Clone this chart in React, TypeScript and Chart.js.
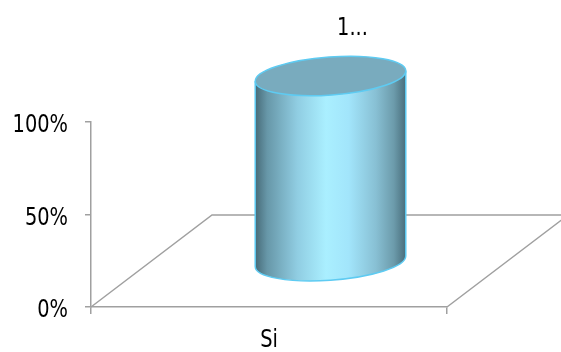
import React, { useEffect, useRef } from "react";
import { Chart, registerables } from "chart.js";

Chart.register(...registerables);

const categories = ["Si"];
const values = [1];
const dataLabels = ["1..."];
const yTickValues = [0, 0.5, 1];

const GRAY = "#a0a0a0";
const DEPTH_X = 121;
const DEPTH_Y = -92;
const FONT = "25px 'DejaVu Sans', sans-serif";
const SX = 0.775;

const fmtPct = (v: number) => `${Math.round(v * 100)}%`;

function drawNarrowText(ctx: any, text: string, x: number, y: number, align: "left" | "center" | "right") {
  ctx.save();
  ctx.font = FONT;
  ctx.fillStyle = "#000";
  ctx.textBaseline = "alphabetic";
  ctx.textAlign = align;
  ctx.translate(x, y);
  ctx.scale(SX, 1);
  ctx.fillText(text, 0, 0);
  ctx.restore();
}

const floorPlugin = {
  id: "floor3d",
  beforeDatasetsDraw(chart: any) {
    const { ctx, chartArea } = chart;
    const { left, right, bottom } = chartArea;
    ctx.save();
    ctx.strokeStyle = GRAY;
    ctx.lineWidth = 1.5;
    ctx.beginPath();
    ctx.moveTo(left, bottom);
    ctx.lineTo(left + DEPTH_X, bottom + DEPTH_Y);
    ctx.lineTo(right + DEPTH_X, bottom + DEPTH_Y);
    ctx.lineTo(right, bottom);
    ctx.stroke();
    ctx.restore();
  },
};

const axisLabelPlugin = {
  id: "axisLabels",
  afterDraw(chart: any) {
    const { ctx } = chart;
    const ys = chart.scales.y;
    const xs = chart.scales.x;
    yTickValues.forEach((v) => {
      const py = ys.getPixelForValue(v);
      drawNarrowText(ctx, fmtPct(v), ys.right - 23, py + 10, "right");
    });
    categories.forEach((c, i) => {
      const px = xs.getPixelForValue(i);
      drawNarrowText(ctx, c, px, xs.top + 40, "center");
    });
  },
};

const cylinderPlugin = {
  id: "cylinder3d",
  afterDatasetsDraw(chart: any) {
    const { ctx } = chart;
    const meta = chart.getDatasetMeta(0);
    meta.data.forEach((bar: any, i: number) => {
      const props = bar.getProps(["x", "y", "base", "width"], true);
      const cx = props.x + DEPTH_X / 2 + 1;
      const topY = props.y + DEPTH_Y / 2;
      const botY = props.base + DEPTH_Y / 2 + 1;
      const rx = props.width / 2;
      const ry = 19;
      const rot = -0.073;
      const t0 = Math.atan2(-ry * Math.sin(rot), rx * Math.cos(rot));
      const ptAt = (cy: number, t: number) => {
        const ex = rx * Math.cos(t);
        const ey = ry * Math.sin(t);
        return {
          x: cx + ex * Math.cos(rot) - ey * Math.sin(rot),
          y: cy + ex * Math.sin(rot) + ey * Math.cos(rot),
        };
      };
      const tR = t0;
      const tL = t0 + Math.PI;
      const topL = ptAt(topY, tL);
      const topR = ptAt(topY, tR);
      const botL = ptAt(botY, tL);

      ctx.save();
      const grad = ctx.createLinearGradient(cx - rx, 0, cx + rx, 0);
      grad.addColorStop(0, "#466a77");
      grad.addColorStop(0.08, "#6797a8");
      grad.addColorStop(0.28, "#90cde2");
      grad.addColorStop(0.47, "#aaefff");
      grad.addColorStop(0.62, "#a2e5fb");
      grad.addColorStop(0.8, "#88c0d4");
      grad.addColorStop(0.92, "#6c9bab");
      grad.addColorStop(1, "#486d7b");
      const sidePath = () => {
        ctx.beginPath();
        ctx.moveTo(topL.x, topL.y);
        ctx.lineTo(botL.x, botL.y);
        ctx.ellipse(cx, botY, rx, ry, rot, tL, tR, true);
        ctx.lineTo(topR.x, topR.y);
      };
      sidePath();
      ctx.closePath();
      ctx.fillStyle = grad;
      ctx.fill();
      ctx.strokeStyle = "#5ecbf2";
      ctx.lineWidth = 1.5;
      sidePath();
      ctx.stroke();
      ctx.beginPath();
      ctx.ellipse(cx, topY, rx, ry, rot, 0, Math.PI * 2);
      ctx.fillStyle = "#79abbe";
      ctx.fill();
      ctx.stroke();
      ctx.restore();
      drawNarrowText(ctx, dataLabels[i], cx + 22, topY - 41, "center");
    });
  },
};

export default function App() {
  const canvasRef = useRef<HTMLCanvasElement | null>(null);

  useEffect(() => {
    document.body.style.margin = "0";
    const canvas = canvasRef.current;
    if (!canvas) return;
    const chart = new Chart(canvas, {
      type: "bar",
      data: {
        labels: categories,
        datasets: [
          {
            data: values,
            backgroundColor: "rgba(0,0,0,0)",
            borderWidth: 0,
            barPercentage: 0.424,
            categoryPercentage: 1,
          },
        ],
      },
      options: {
        responsive: false,
        animation: false,
        layout: { padding: { top: 122, right: 114, left: 0, bottom: 0 } },
        plugins: {
          legend: { display: false },
          tooltip: { enabled: false },
        },
        scales: {
          x: {
            type: "category",
            offset: true,
            grid: {
              display: true,
              offset: true,
              drawOnChartArea: false,
              drawTicks: true,
              tickLength: 7,
              color: GRAY,
              lineWidth: 1.5,
            },
            border: { display: true, color: GRAY, width: 1.5 },
            ticks: { display: false },
            afterFit: (scale: any) => {
              scale.height = 45;
            },
          },
          y: {
            type: "linear",
            min: 0,
            max: 1,
            afterBuildTicks: (scale: any) => {
              scale.ticks = yTickValues.map((v) => ({ value: v }));
            },
            grid: {
              display: true,
              drawOnChartArea: false,
              drawTicks: true,
              tickLength: 6,
              color: GRAY,
              lineWidth: 1.5,
            },
            border: { display: true, color: GRAY, width: 1.5 },
            ticks: { display: false },
            afterFit: (scale: any) => {
              scale.width = 91;
            },
          },
        },
      },
      plugins: [floorPlugin, cylinderPlugin, axisLabelPlugin],
    });
    return () => chart.destroy();
  }, []);

  return (
    <div style={{ width: 561, height: 352, background: "#fff" }}>
      <canvas ref={canvasRef} width={561} height={352} />
    </div>
  );
}
